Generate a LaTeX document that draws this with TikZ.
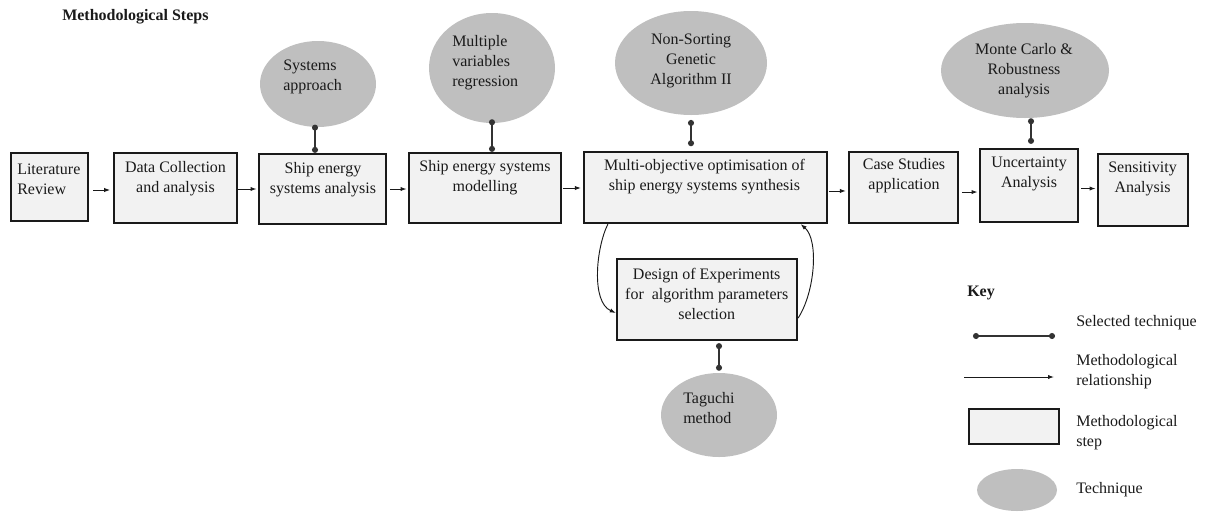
\documentclass[tikz,border=0pt]{standalone}
\usepackage{fontspec}
\setmainfont{Liberation Serif}
\newfontfamily\stepserif{Liberation Serif}
\usetikzlibrary{arrows.meta,shapes.geometric}

\definecolor{boxfill}{HTML}{F2F2F2}
\definecolor{techfill}{HTML}{BFBFBF}
\definecolor{inkline}{HTML}{1A1A1A}
\definecolor{linkgray}{HTML}{333333}

\tikzset{
  stepbox/.style={draw=inkline, line width=1.7pt, fill=boxfill, inner sep=0pt},
  techellipse/.style={ellipse, fill=techfill, draw=none, inner sep=0pt},
  txt/.style={inner sep=0pt, text=inkline, font=\stepserif\fontsize{12}{15}\selectfont},
  boldtxt/.style={inner sep=0pt, text=inkline, font=\stepserif\bfseries\fontsize{12}{15}\selectfont},
  seltech/.style={draw=linkgray, line width=1pt,
    {Circle[length=4.5pt,width=4.5pt]}-{Circle[length=4.5pt,width=4.5pt]}},
  relarrow/.style={draw=inkline, line width=0.7pt,
    -{Latex[length=4.5pt,width=3.2pt]}},
}

\begin{document}
\begin{tikzpicture}[x=0.75pt,y=-0.75pt]
\useasboundingbox (0,0) rectangle (1213,511);

% title
\node[boldtxt, anchor=west] (title) at (62,17) {Methodological Steps};

% methodological steps
\node[stepbox, minimum width=77*0.75pt,  minimum height=68*0.75pt] (lit)  at (49.5,187)   {};
\node[stepbox, minimum width=123*0.75pt, minimum height=70*0.75pt] (data) at (175.5,188)  {};
\node[stepbox, minimum width=127*0.75pt, minimum height=70*0.75pt] (sesa) at (322.5,189)  {};
\node[stepbox, minimum width=152*0.75pt, minimum height=70*0.75pt] (sesm) at (485,188)    {};
\node[stepbox, minimum width=243*0.75pt, minimum height=71*0.75pt] (moo)  at (705.5,187.5){};
\node[stepbox, minimum width=109*0.75pt, minimum height=71*0.75pt] (case) at (903.5,187.5){};
\node[stepbox, minimum width=98*0.75pt,  minimum height=73*0.75pt] (unc)  at (1029,185.5) {};
\node[stepbox, minimum width=90*0.75pt,  minimum height=72*0.75pt] (sens) at (1143,190)   {};
\node[stepbox, minimum width=180*0.75pt, minimum height=81*0.75pt] (doe)  at (707,299.5)  {};

% step labels
\node[txt, align=left, anchor=west] (litT) at (17,179) {Literature\\Review};
\node[txt, align=center] (dataT) at (175.5,178.5) {Data Collection\\and analysis};
\node[txt, align=center] (sesaT) at (323,180) {Ship energy\\systems analysis};
\node[txt, align=center] (sesmT) at (485,178) {Ship energy systems\\modelling};
\node[txt, align=center] (mooT)  at (704.5,176.5) {Multi-objective optimisation of\\ship energy systems synthesis};
\node[txt, align=center] (caseT) at (904,176) {Case Studies\\application};
\node[txt, align=center] (uncT)  at (1029,174) {Uncertainty\\Analysis};
\node[txt, align=center] (sensT) at (1142.5,179) {Sensitivity\\Analysis};
\node[txt, align=center] (doeT)  at (706.7,293.5) {Design of Experiments\\for\ \ algorithm parameters\\selection};

% techniques
\node[techellipse, minimum width=116*0.75pt, minimum height=86*0.75pt]  (sa)  at (318,84)    {};
\node[techellipse, minimum width=126*0.75pt, minimum height=110*0.75pt] (mvr) at (492,68)    {};
\node[techellipse, minimum width=152*0.75pt, minimum height=104*0.75pt] (nsg) at (691,63)    {};
\node[techellipse, minimum width=168*0.75pt, minimum height=95*0.75pt]  (mc)  at (1025,70.5) {};
\node[techellipse, minimum width=116*0.75pt, minimum height=84*0.75pt]  (tag) at (719,415)   {};

\node[txt, align=left, anchor=west] (saT)  at (283,77) {Systems\\approach};
\node[txt, align=left, anchor=west] (mvrT) at (452,62.5) {Multiple\\variables\\regression};
\node[txt, align=center] (nsgT) at (691,60.5) {Non-Sorting\\Genetic\\Algorithm II};
\node[txt, align=center] (mcT)  at (1024,70.5) {Monte Carlo \&\\Robustness\\analysis};
\node[txt, align=left, anchor=west] (tagT) at (683,408.5) {Taguchi\\method};

% selected techniques
\draw[seltech] ([xshift=-2.25pt,yshift=2pt]sa.south) -- ([xshift=-2.25pt]sa.south |- sesa.north);
\draw[seltech] ([yshift=3pt]mvr.south) -- (mvr.south |- sesm.north);
\draw[seltech, shorten <=3.5pt, shorten >=3.5pt] (nsg.south) -- (nsg.south |- moo.north);
\draw[seltech, shorten >=3pt] ([xshift=4.5pt]mc.south) -- ([xshift=4.5pt]mc.south |- unc.north);
\draw[seltech, shorten <=1.5pt, shorten >=1.5pt] (tag.north |- doe.south) -- (tag.north);

% methodological relationships
\draw[relarrow, shorten <=3pt, shorten >=2pt] ([yshift=-2.25pt]lit.east) -- ([yshift=-2.25pt]lit.east -| data.west);
\draw[relarrow, shorten >=1pt] ([yshift=-0.75pt]data.east) -- ([yshift=-0.75pt]data.east -| sesa.west);
\draw[relarrow, shorten <=2pt, shorten >=1pt] (sesa.east) -- (sesa.east -| sesm.west);
\draw[relarrow, shorten <=1pt, shorten >=1.5pt] (sesm.east) -- (sesm.east -| moo.west);
\draw[relarrow, shorten <=1pt, shorten >=1.5pt] ([yshift=-2.6pt]moo.east) -- ([yshift=-2.6pt]moo.east -| case.west);
\draw[relarrow, shorten <=2pt, shorten >=1pt] ([yshift=-3.4pt]case.east) -- ([yshift=-3.4pt]case.east -| unc.west);
\draw[relarrow, shorten <=1.5pt, shorten >=1pt] ([yshift=-2.25pt]unc.east) -- ([yshift=-2.25pt]unc.east -| sens.west);

% loop between optimisation and design of experiments
\draw[relarrow] ([xshift=18.75pt]moo.south west) .. controls (596,248) and (591,302) .. ([yshift=-10.1pt]doe.west);
\draw[relarrow] ([yshift=-13.9pt]doe.east) .. controls (815,292) and (819,240) .. ([xshift=-20.6pt]moo.south east);

% key
\node[boldtxt, anchor=west] (keyT) at (967,293) {Key};

\coordinate (k1a) at (973,336);
\coordinate (k1b) at (1055,336);
\draw[seltech, line width=0.9pt] (k1a) -- (k1b);
\node[txt, anchor=west] (k1T) at (1076,323) {Selected technique};

\coordinate (k2a) at (964,377);
\coordinate (k2b) at (1054,377);
\draw[relarrow] (k2a) -- (k2b);
\node[txt, align=left, anchor=west] (k2T) at (1076,372) {Methodological\\relationship};

\node[stepbox, minimum width=90*0.75pt, minimum height=35*0.75pt] (k3) at (1014,426.5) {};
\node[txt, align=left, anchor=west] (k3T) at (1076,433) {Methodological\\step};

\node[techellipse, minimum width=80*0.75pt, minimum height=42*0.75pt] (k4) at (1017,490) {};
\node[txt, anchor=west] (k4T) at (1076,490) {Technique};
\end{tikzpicture}
\end{document}
